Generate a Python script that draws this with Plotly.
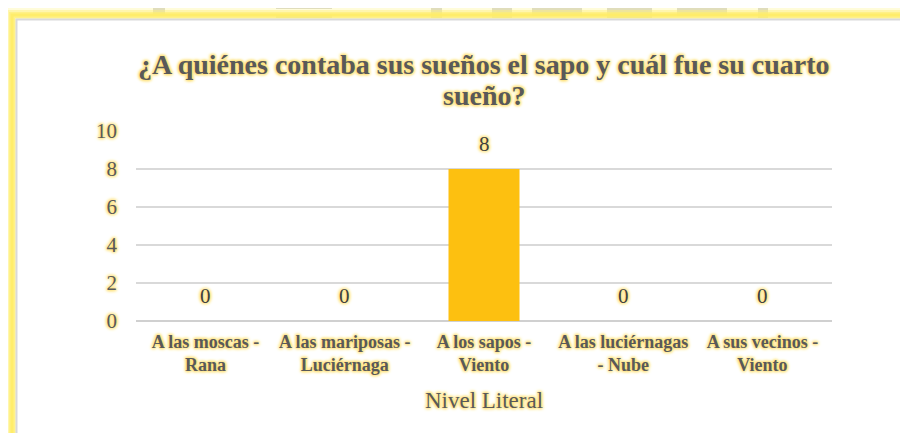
import plotly.graph_objects as go

categories = ["A las moscas -<br>Rana", "A las mariposas -<br>Luciérnaga", "A los sapos -<br>Viento",
              "A las luciérnagas<br>- Nube", "A sus vecinos -<br>Viento"]
values = [0, 0, 8, 0, 0]
y_ticks = [0, 2, 4, 6, 8, 10]
title_lines = ["¿A quiénes contaba sus sueños el sapo y cuál fue su cuarto", "sueño?"]
x_title = "Nivel Literal"

OFF = 8  # page body margin
W, H = 908 - OFF, 433 - OFF
L, R, T, B = 136 - OFF, 832 - OFF, 131 - OFF, 321 - OFF

def px(x):
    return (x - OFF - L) / (R - L)

def py(y):
    return (B - (y - OFF)) / (B - T)

glow = "1px 1px 3px #ffe27a, -1px -1px 3px #ffe27a, 1px -1px 3px #ffe27a, -1px 1px 3px #ffe27a"
serif = "Liberation Serif"

fig = go.Figure()
fig.add_trace(go.Bar(
    x=categories, y=values,
    marker=dict(color="#FDC010", line=dict(width=0)),
    width=0.51, hoverinfo="x+y",
))

annotations = []
for c, v in zip(categories, values):
    annotations.append(dict(x=c, y=v, xref="x", yref="y", text=str(v), showarrow=False,
                            yanchor="middle", yshift=25,
                            font=dict(family=serif, size=21, color="#404040", shadow=glow)))
for i, (line, yc) in enumerate(zip(title_lines, [64, 95])):
    annotations.append(dict(x=0.5, y=py(yc), xref="paper", yref="paper", text=line, showarrow=False,
                            xanchor="center", yanchor="middle",
                            font=dict(family=serif, size=28, color="#595959", weight="bold", shadow=glow)))

shapes = []
for x0, x1, y0, y1 in [(153, 165, 0, 14), (276, 332, 0, 9), (276, 332, 15, 18), (431, 442, 0, 18),
                       (492, 500, 0, 18), (500, 512, 0, 18), (532, 582, 0, 16), (607, 652, 0, 18),
                       (677, 727, 0, 16), (758, 768, 0, 18)]:
    shapes.append(dict(type="rect", xref="paper", yref="paper", x0=px(x0), x1=px(x1), y0=py(y1), y1=py(y0),
                       line=dict(width=0), fillcolor="#cfcfcf", layer="below"))
for w, c in [(14, "rgba(255,245,150,0.35)"), (10, "rgba(255,240,120,0.45)"), (6, "rgba(255,238,110,0.6)"),
             (3, "rgba(255,236,100,0.8)")]:
    shapes.append(dict(type="rect", xref="paper", yref="paper", x0=px(12), x1=px(960), y0=py(480), y1=py(15),
                       line=dict(width=w, color=c), fillcolor="rgba(0,0,0,0)", layer="below"))
shapes.append(dict(type="rect", xref="paper", yref="paper", x0=px(16.5), x1=px(960), y0=py(480), y1=py(19.5),
                   line=dict(width=2, color="#d9d9d9"), fillcolor="white", layer="below"))

fig.update_layout(
    width=W, height=H,
    margin=dict(l=L, r=W - R, t=T, b=H - B, pad=0),
    paper_bgcolor="white", plot_bgcolor="white",
    bargap=0.49,
    showlegend=False,
    shapes=shapes,
    annotations=annotations,
    xaxis=dict(
        tickfont=dict(family=serif, size=18, color="#595959", weight="bold", shadow=glow),
        showgrid=False, showline=False, ticks="", zeroline=False, ticklabelstandoff=8,
        title=dict(text=x_title, standoff=17, font=dict(family=serif, size=23, color="#595959", shadow=glow)),
    ),
    yaxis=dict(
        range=[0, 10], tickvals=y_ticks, ticktext=[str(t) for t in y_ticks],
        tickfont=dict(family=serif, size=21, color="#595959", shadow=glow),
        showgrid=True, gridcolor="#d9d9d9", gridwidth=1.5,
        zeroline=True, zerolinecolor="#d0d0d0", zerolinewidth=2,
        showline=False, ticks="", ticklabelstandoff=18,
    ),
)

fig.write_html("out.html")
